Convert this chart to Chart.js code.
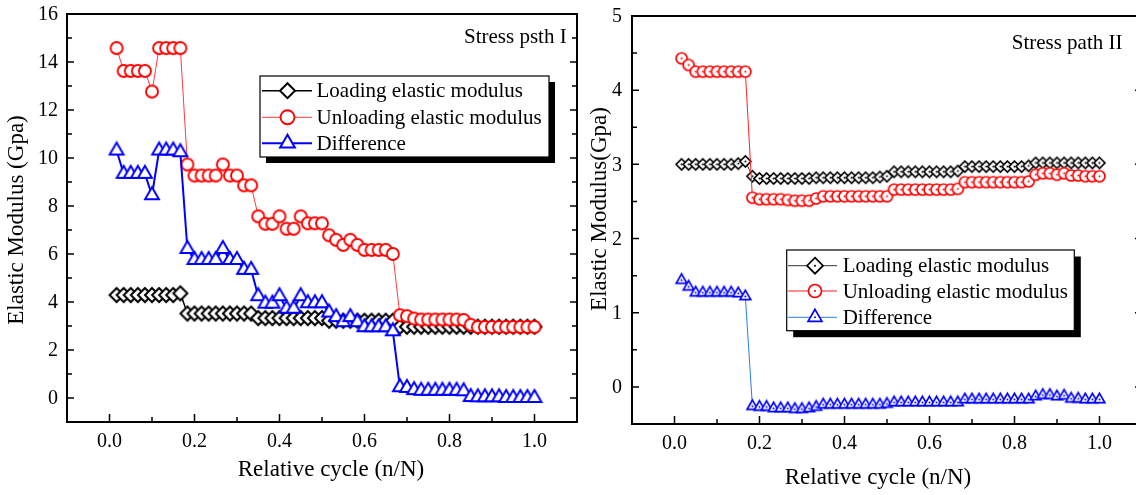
<!DOCTYPE html>
<html>
<head>
<meta charset="utf-8">
<script src="https://cdn.jsdelivr.net/npm/chart.js@4.4.1/dist/chart.umd.min.js"></script>
<style>
  html, body { margin: 0; padding: 0; background: #fff; overflow: hidden; width: 1136px; height: 495px; }
  canvas { position: absolute; top: 0; }
  #pathI { left: 0; }
  #pathII { left: 590px; }
</style>
</head>
<body>
<canvas id="pathI" width="590" height="495"></canvas>
<canvas id="pathII" width="560" height="495"></canvas>
<script>
// ---- data -------------------------------------------------------------
const totalCycles = 60;                       // N: cycles per test, x = n / N
const seriesNames = ['Loading elastic modulus', 'Unloading elastic modulus', 'Difference'];

const xTickValues  = [0, 0.2, 0.4, 0.6, 0.8, 1.0];
const xMinorValues = [0.1, 0.3, 0.5, 0.7, 0.9];

const yTicksPathI  = [0, 2, 4, 6, 8, 10, 12, 14, 16];
const yMinorPathI  = [1, 3, 5, 7, 9, 11, 13, 15];
const yTicksPathII = [0, 1, 2, 3, 4, 5];
const yMinorPathII = [0.5, 1.5, 2.5, 3.5, 4.5];

// Stress path I (GPa)
const loadingI = [
  4.29, 4.29, 4.29, 4.29, 4.29, 4.29, 4.29, 4.29, 4.29, 4.36,
  3.52, 3.52, 3.52, 3.52, 3.52, 3.52, 3.52, 3.52, 3.52, 3.52,
  3.33, 3.33, 3.33, 3.33, 3.33, 3.33, 3.33, 3.33, 3.33, 3.33,
  3.22, 3.22, 3.22, 3.22, 3.22, 3.22, 3.22, 3.22, 3.22, 3.22,
  2.97, 2.97, 2.97, 2.97, 2.97, 2.97, 2.97, 2.97, 2.97, 2.97,
  2.97, 2.97, 2.97, 2.97, 2.97, 2.97, 2.97, 2.97, 2.97, 2.97
];
const unloadingI = [
  14.58, 13.63, 13.63, 13.63, 13.63, 12.77, 14.58, 14.58, 14.58, 14.58,
  9.73, 9.27, 9.27, 9.27, 9.27, 9.73, 9.27, 9.27, 8.86, 8.86,
  7.57, 7.26, 7.26, 7.57, 7.05, 7.05, 7.57, 7.28, 7.28, 7.28,
  6.78, 6.59, 6.38, 6.59, 6.38, 6.17, 6.17, 6.17, 6.17, 6.00,
  3.45, 3.41, 3.31, 3.27, 3.27, 3.27, 3.27, 3.27, 3.27, 3.25,
  3.05, 2.96, 2.96, 2.96, 2.96, 2.96, 2.96, 2.96, 2.96, 2.96
];
const differenceI = [
  10.31, 9.34, 9.34, 9.34, 9.34, 8.45, 10.31, 10.31, 10.31, 10.24,
  6.21, 5.75, 5.75, 5.75, 5.75, 6.21, 5.75, 5.75, 5.34, 5.34,
  4.24, 3.93, 3.93, 4.24, 3.72, 3.72, 4.24, 3.95, 3.95, 3.95,
  3.56, 3.37, 3.16, 3.37, 3.16, 2.95, 2.95, 2.95, 2.95, 2.78,
  0.45, 0.42, 0.33, 0.30, 0.30, 0.30, 0.30, 0.30, 0.30, 0.28,
  0.04, 0.03, 0.03, 0.03, 0.03, 0.00, 0.00, 0.00, 0.00, 0.00
];

// Stress path II (GPa)
const loadingII = [
  3.00, 3.00, 3.00, 3.00, 3.00, 3.00, 3.00, 3.00, 3.01, 3.04,
  2.84, 2.81, 2.81, 2.81, 2.81, 2.81, 2.81, 2.81, 2.81, 2.82,
  2.82, 2.82, 2.82, 2.82, 2.82, 2.82, 2.82, 2.82, 2.83, 2.84,
  2.90, 2.90, 2.90, 2.90, 2.90, 2.90, 2.90, 2.90, 2.90, 2.91,
  2.97, 2.97, 2.97, 2.97, 2.97, 2.97, 2.97, 2.97, 2.97, 2.98,
  3.02, 3.02, 3.02, 3.02, 3.02, 3.02, 3.02, 3.02, 3.02, 3.02
];
const unloadingII = [
  4.43, 4.34, 4.25, 4.25, 4.25, 4.25, 4.25, 4.25, 4.25, 4.25,
  2.55, 2.53, 2.53, 2.53, 2.53, 2.52, 2.51, 2.51, 2.51, 2.54,
  2.57, 2.57, 2.57, 2.57, 2.57, 2.57, 2.57, 2.57, 2.57, 2.57,
  2.66, 2.66, 2.66, 2.66, 2.66, 2.66, 2.66, 2.66, 2.66, 2.67,
  2.76, 2.76, 2.76, 2.76, 2.76, 2.76, 2.76, 2.76, 2.76, 2.77,
  2.86, 2.88, 2.88, 2.86, 2.88, 2.85, 2.85, 2.84, 2.84, 2.84
];
const differenceII = [
  1.44, 1.35, 1.27, 1.27, 1.27, 1.27, 1.27, 1.27, 1.26, 1.22,
  -0.26, -0.27, -0.27, -0.29, -0.29, -0.29, -0.30, -0.30, -0.29, -0.27,
  -0.24, -0.24, -0.24, -0.24, -0.24, -0.24, -0.24, -0.24, -0.24, -0.23,
  -0.21, -0.21, -0.21, -0.21, -0.21, -0.21, -0.21, -0.21, -0.21, -0.21,
  -0.17, -0.17, -0.17, -0.17, -0.17, -0.17, -0.17, -0.17, -0.17, -0.17,
  -0.13, -0.11, -0.11, -0.13, -0.12, -0.16, -0.16, -0.17, -0.17, -0.17
];

// ---- drawing helpers ----------------------------------------------------
const FONT = '"Liberation Serif", "Times New Roman", serif';

function shapePath(ctx, shape, x, y, r) {
  ctx.beginPath();
  if (shape === 'diamond') {
    ctx.moveTo(x, y - r); ctx.lineTo(x + r, y); ctx.lineTo(x, y + r); ctx.lineTo(x - r, y);
  } else if (shape === 'triangle') {
    for (let k = 0; k < 3; k++) {
      const a = k * 2 * Math.PI / 3;
      const px = x + Math.sin(a) * r, py = y - Math.cos(a) * r;
      if (k === 0) ctx.moveTo(px, py); else ctx.lineTo(px, py);
    }
  } else {
    ctx.arc(x, y, r, 0, Math.PI * 2);
  }
  ctx.closePath();
}

function drawMarker(ctx, m, x, y, r) {
  ctx.save();
  shapePath(ctx, m.shape, x, y, r);
  ctx.fillStyle = '#fff';
  ctx.fill();
  ctx.lineWidth = m.lw;
  ctx.strokeStyle = m.color;
  ctx.lineJoin = 'miter';
  ctx.stroke();
  if (m.dot) {
    ctx.beginPath();
    ctx.arc(x, y, 1, 0, Math.PI * 2);
    ctx.fillStyle = m.color;
    ctx.fill();
  }
  ctx.restore();
}

function markerImage(m, r) {
  const size = Math.ceil(2 * r + m.lw + 4);
  const c = document.createElement('canvas');
  c.width = size; c.height = size;
  drawMarker(c.getContext('2d'), m, size / 2, size / 2, r);
  return c;
}

function toPoints(values) {
  return values.map((v, k) => ({ x: (k + 1) / totalCycles, y: v }));
}

// ---- plugins -------------------------------------------------------------
// Closed frame, inward ticks on left / right / bottom, and tick labels
// placed at the scales' own tick positions.
const framePlugin = {
  id: 'frame',
  afterDraw(chart, args, o) {
    const { ctx, chartArea: a, scales: { x, y } } = chart;
    ctx.save();
    ctx.strokeStyle = '#000';
    ctx.lineWidth = 2;
    ctx.strokeRect(a.left, a.top, a.right - a.left, a.bottom - a.top);
    ctx.lineWidth = 1.5;
    ctx.beginPath();
    const yTick = (v, len) => {
      const py = y.getPixelForValue(v);
      ctx.moveTo(a.left, py); ctx.lineTo(a.left + len, py);
      ctx.moveTo(a.right, py); ctx.lineTo(a.right - len, py);
    };
    const xTick = (v, len) => {
      const px = x.getPixelForValue(v);
      ctx.moveTo(px, a.bottom); ctx.lineTo(px, a.bottom - len);
    };
    y.ticks.forEach(t => yTick(t.value, 7));
    o.yMinor.forEach(v => yTick(v, 5));
    x.ticks.forEach(t => xTick(t.value, 8));
    xMinorValues.forEach(v => xTick(v, 5));
    ctx.stroke();

    ctx.fillStyle = '#000';
    ctx.font = '20px ' + FONT;
    ctx.textBaseline = 'middle';
    ctx.textAlign = 'right';
    y.ticks.forEach(t => ctx.fillText(String(t.value), o.yLabelRight, y.getPixelForValue(t.value) + 1));
    ctx.textAlign = 'center';
    x.ticks.forEach(t => ctx.fillText(Number(t.value).toFixed(1), x.getPixelForValue(t.value), o.xLabelMid));
    ctx.restore();
  }
};

const textPlugin = {
  id: 'texts',
  afterDraw(chart, args, o) {
    const ctx = chart.ctx;
    ctx.save();
    ctx.fillStyle = '#000';
    ctx.textBaseline = 'middle';
    ctx.font = '23px ' + FONT;
    ctx.textAlign = 'center';
    ctx.fillText(o.xTitle.text, o.xTitle.x, o.xTitle.y);
    ctx.save();
    ctx.translate(o.yTitle.x, o.yTitle.y);
    ctx.rotate(-Math.PI / 2);
    ctx.fillText(o.yTitle.text, 0, 0);
    ctx.restore();
    ctx.font = '21px ' + FONT;
    ctx.textAlign = 'left';
    ctx.fillText(o.note.text, o.note.x, o.note.y);
    ctx.restore();
  }
};

const boxLegendPlugin = {
  id: 'boxLegend',
  afterDraw(chart, args, o) {
    const ctx = chart.ctx;
    ctx.save();
    ctx.fillStyle = '#000';
    ctx.fillRect(o.x + o.shadow, o.y + o.shadow, o.w, o.h);
    ctx.fillStyle = '#fff';
    ctx.fillRect(o.x, o.y, o.w, o.h);
    ctx.strokeStyle = '#000';
    ctx.lineWidth = 1.2;
    ctx.strokeRect(o.x, o.y, o.w, o.h);
    ctx.font = '21px ' + FONT;
    ctx.textAlign = 'left';
    ctx.textBaseline = 'middle';
    chart.data.datasets.forEach((ds, k) => {
      const ry = o.rows[k];
      ctx.beginPath();
      ctx.moveTo(o.lineX1, ry);
      ctx.lineTo(o.lineX2, ry);
      ctx.strokeStyle = ds.borderColor;
      ctx.lineWidth = ds.borderWidth;
      ctx.stroke();
      drawMarker(ctx, ds.marker, o.markerX, ry, o.markerR[k]);
      ctx.fillStyle = '#000';
      ctx.fillText(ds.label, o.textX, ry + 1);
    });
    ctx.restore();
  }
};

// ---- chart builder -------------------------------------------------------
function buildChart(id, p) {
  const datasets = p.series.map((s, k) => ({
    label: seriesNames[k],
    data: toPoints(s.values),
    borderColor: s.line,
    borderWidth: s.lw,
    backgroundColor: '#fff',
    pointStyle: markerImage(s.marker, s.r),
    pointRadius: s.r,
    pointHoverRadius: s.r,
    marker: s.marker,
    tension: 0,
    fill: false,
    order: 3 - k
  }));
  return new Chart(document.getElementById(id), {
    type: 'line',
    data: { datasets },
    options: {
      responsive: false,
      animation: false,
      events: [],
      layout: { padding: p.padding },
      scales: {
        x: {
          type: 'linear',
          min: -0.1,
          max: 1.1,
          afterBuildTicks: s => { s.ticks = xTickValues.map(v => ({ value: v })); },
          afterFit: s => { s.height = p.xAxisHeight; },
          grid: { display: false, drawTicks: false },
          border: { display: false },
          ticks: { display: false }
        },
        y: {
          type: 'linear',
          min: p.yMin,
          max: p.yMax,
          afterBuildTicks: s => { s.ticks = p.yMajor.map(v => ({ value: v })); },
          afterFit: s => { s.width = p.yAxisWidth; },
          grid: { display: false, drawTicks: false },
          border: { display: false },
          ticks: { display: false }
        }
      },
      plugins: {
        legend: { display: false },
        tooltip: { enabled: false },
        frame: { yMinor: p.yMinor, yLabelRight: p.yLabelRight, xLabelMid: p.xLabelMid },
        texts: p.texts,
        boxLegend: p.legend
      }
    },
    plugins: [framePlugin, boxLegendPlugin, textPlugin]
  });
}

// Stress path I: open markers, heavier lines
buildChart('pathI', {
  padding: { left: 0, top: 14, right: 13, bottom: 0 },
  yAxisWidth: 67, xAxisHeight: 73, yLabelRight: 58, xLabelMid: 442,
  yMin: -1, yMax: 16, yMajor: yTicksPathI, yMinor: yMinorPathI,
  series: [
    { values: loadingI,    line: '#000000', lw: 1.5, r: 7,
      marker: { shape: 'diamond',  color: '#000000', lw: 2, dot: false } },
    { values: unloadingI,  line: '#ff3b3b', lw: 1,   r: 6,
      marker: { shape: 'circle',   color: '#ff0000', lw: 1.9, dot: false } },
    { values: differenceI, line: '#0000ff', lw: 2,   r: 8,
      marker: { shape: 'triangle', color: '#0000ff', lw: 2, dot: false } }
  ],
  texts: {
    xTitle: { text: 'Relative cycle (n/N)', x: 331, y: 470 },
    yTitle: { text: 'Elastic Modulus (Gpa)', x: 17, y: 220 },
    note: { text: 'Stress psth I', x: 464, y: 37 }
  },
  legend: {
    x: 260, y: 76, w: 289, h: 81, shadow: 6,
    rows: [90.7, 117.3, 143.3],
    lineX1: 262, lineX2: 312, markerX: 287.5, textX: 316.5,
    markerR: [7.5, 7, 8.5]
  }
});

// Stress path II: smaller dotted-centre markers, thin lines
buildChart('pathII', {
  padding: { left: 0, top: 16, right: 8, bottom: 0 },
  yAxisWidth: 42, xAxisHeight: 71, yLabelRight: 32, xLabelMid: 443.5,
  yMin: -0.5, yMax: 5, yMajor: yTicksPathII, yMinor: yMinorPathII,
  series: [
    { values: loadingII,    line: '#333333', lw: 1, r: 5.5,
      marker: { shape: 'diamond',  color: '#000000', lw: 1.7, dot: true } },
    { values: unloadingII,  line: '#ff2020', lw: 1, r: 5.5,
      marker: { shape: 'circle',   color: '#ff0000', lw: 1.7, dot: true } },
    { values: differenceII, line: '#2b7de9', lw: 1, r: 6.2,
      marker: { shape: 'triangle', color: '#0000ff', lw: 1.7, dot: true } }
  ],
  texts: {
    xTitle: { text: 'Relative cycle (n/N)', x: 288, y: 478 },
    yTitle: { text: 'Elastic Modulus(Gpa)', x: 10, y: 209 },
    note: { text: 'Stress path II', x: 421.7, y: 43 }
  },
  legend: {
    x: 196.7, y: 250, w: 287.6, h: 80.7, shadow: 6.5,
    rows: [265.7, 291, 317.3],
    lineX1: 198, lineX2: 247, markerX: 225, textX: 252.7,
    markerR: [8, 6.5, 8]
  }
});
</script>
</body>
</html>
